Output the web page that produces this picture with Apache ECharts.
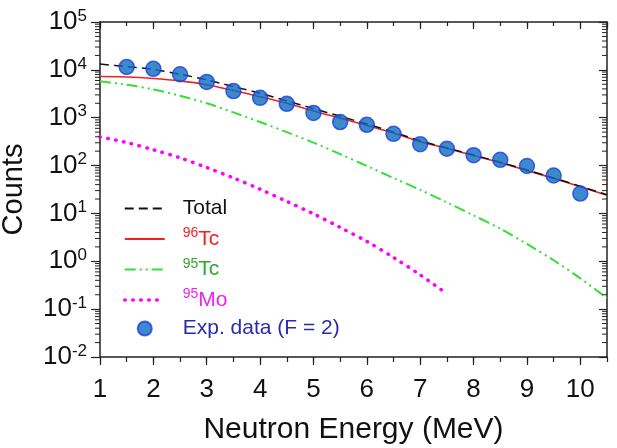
<!DOCTYPE html>
<html>
<head>
<meta charset="utf-8">
<script src="https://cdn.jsdelivr.net/npm/echarts@6/dist/echarts.min.js"></script>
<style>
html,body{margin:0;padding:0;background:#fff;}
#chart{width:617px;height:448px;}
</style>
</head>
<body>
<div id="chart"></div>
<script>
// ---- data ----
const curveEnergy = [1, 1.5, 2, 2.5, 3, 3.5, 4, 4.5, 5, 5.5, 6, 6.5, 7, 7.5, 8, 8.5, 9, 9.5, 10, 10.5];
const totalCounts = [13200, 11700, 10200, 8100, 6200, 4470, 3240, 2240, 1550, 1070, 740, 500, 330, 234, 166, 117, 81, 55, 37, 24.5];
const tc96Counts  = [7240, 7080, 6610, 5890, 4900, 3720, 2750, 2000, 1380, 980, 690, 480, 316, 229, 162, 115, 79, 54, 36, 24];
const tc95Counts  = [5750, 4900, 3890, 2880, 2000, 1290, 813, 500, 302, 174, 98, 55, 31, 17, 9.1, 4.8, 2.3, 1.05, 0.44, 0.17];
const mo95Energy  = [1, 1.5, 2, 2.5, 3, 3.5, 4, 4.5, 5, 5.5, 6, 6.5, 7, 7.5];
const mo95Counts  = [398, 302, 214, 145, 91, 55, 32, 17.8, 9.8, 5.1, 2.6, 1.2, 0.52, 0.21];
const expEnergy   = [1.5, 2, 2.5, 3, 3.5, 4, 4.5, 5, 5.5, 6, 6.5, 7, 7.5, 8, 8.5, 9, 9.5, 10];
const expCounts   = [11500, 10500, 8100, 5600, 3600, 2600, 1950, 1260, 810, 710, 460, 280, 225, 165, 132, 98, 62, 26];
const seriesNames = ['Total', '96Tc', '95Tc', '95Mo', 'Exp. data (F = 2)'];
const xTitle = 'Neutron Energy (MeV)';
const yTitle = 'Counts';

// log minor tick values (2..9 × 10^e)
const minorTickValues = [];
for (let e = -2; e <= 4; e++) for (let m = 2; m <= 9; m++) minorTickValues.push(m * Math.pow(10, e));

const zip = (xs, ys) => xs.map((x, i) => [x, ys[i]]);
const AX = '#222';
const legendFmt = {
  'Total': '{m|Total}',
  '96Tc': '{s|96}{m|Tc}',
  '95Tc': '{s|95}{m|Tc}',
  '95Mo': '{s|95}{m|Mo}',
  'Exp. data (F = 2)': '{m|Exp. data (F = 2)}'
};

const chart = echarts.init(document.getElementById('chart'), null, {renderer: 'canvas'});
const baseX = {type: 'value', min: 1, max: 10.5, splitLine: {show: false}};
const hideDot = {opacity: 0};
const option = {
  animation: false,
  backgroundColor: '#fff',
  grid: {left: 100, right: 10, top: 22, bottom: 91, containLabel: false, outerBoundsMode: 'none'},
  xAxis: [
    Object.assign({}, baseX, {
      position: 'bottom', interval: 1,
      axisLine: {onZero: false, lineStyle: {color: AX, width: 1.5}},
      axisTick: {length: 8, lineStyle: {color: AX, width: 1.2}},
      axisLabel: {fontSize: 26, color: '#111', margin: 20, showMaxLabel: false, fontFamily: 'Liberation Sans'},
      name: xTitle, nameLocation: 'middle', nameGap: 58,
      nameTextStyle: {fontSize: 30, color: '#111', fontFamily: 'Liberation Sans'}
    }),
    Object.assign({}, baseX, {
      position: 'top', interval: 1,
      axisLine: {onZero: false, lineStyle: {color: AX, width: 1.5}},
      axisTick: {inside: true, length: 7, lineStyle: {color: AX, width: 1.2}},
      axisLabel: {show: false}
    }),
    Object.assign({}, baseX, {
      position: 'bottom', interval: 0.5,
      axisLine: {show: false, onZero: false},
      axisTick: {length: 5, lineStyle: {color: AX, width: 1.2}},
      axisLabel: {show: false}
    }),
    Object.assign({}, baseX, {
      position: 'top', interval: 0.5,
      axisLine: {show: false, onZero: false},
      axisTick: {inside: true, length: 4, lineStyle: {color: AX, width: 1.2}},
      axisLabel: {show: false}
    })
  ],
  yAxis: [
    {
      type: 'log', logBase: 10, min: 0.01, max: 100000, splitNumber: 7, position: 'left',
      splitLine: {show: false},
      axisLine: {show: true, onZero: false, lineStyle: {color: AX, width: 1.5}},
      axisTick: {length: 9, lineStyle: {color: AX, width: 1.2}},
      axisLabel: {
        margin: 13, color: '#111', fontFamily: 'Liberation Sans',
        formatter: v => '{m|10}{s|' + Math.round(Math.log10(v)) + '}',
        rich: {
          m: {fontSize: 26, lineHeight: 29, color: '#111', fontFamily: 'Liberation Sans'},
          s: {fontSize: 17, lineHeight: 17, verticalAlign: 'top', color: '#111', fontFamily: 'Liberation Sans'}
        }
      },
      name: yTitle, nameLocation: 'middle', nameGap: 72,
      nameTextStyle: {fontSize: 29, color: '#111', fontFamily: 'Liberation Sans'}
    },
    {
      type: 'log', logBase: 10, min: 0.01, max: 100000, splitNumber: 7, position: 'right',
      splitLine: {show: false},
      axisLine: {show: true, onZero: false, lineStyle: {color: AX, width: 1.5}},
      axisTick: {inside: true, length: 8, lineStyle: {color: AX, width: 1.2}},
      axisLabel: {show: false}
    }
  ],
  legend: {
    orient: 'vertical', left: 123, top: 198, padding: 0,
    itemWidth: 40, itemHeight: 14, itemGap: 7.5,
    selectedMode: false,
    formatter: n => legendFmt[n],
    textStyle: {
      fontSize: 21, padding: [0, 0, 0, 13], fontFamily: 'Liberation Sans',
      rich: {
        m: {fontSize: 21, lineHeight: 25, fontFamily: 'Liberation Sans'},
        s: {fontSize: 14, lineHeight: 14, verticalAlign: 'top', fontFamily: 'Liberation Sans'}
      }
    },
    data: [
      {name: seriesNames[0], itemStyle: hideDot, textStyle: {color: '#111'}},
      {name: seriesNames[1], itemStyle: hideDot, textStyle: {color: '#ee2222'}},
      {name: seriesNames[2], itemStyle: hideDot, textStyle: {color: '#2aaa2a'}},
      {name: seriesNames[3], itemStyle: hideDot, lineStyle: {width: 3.5}, textStyle: {color: '#ee22ee'}},
      {name: seriesNames[4], textStyle: {color: '#2a2ab0'}}
    ]
  },
  series: [
    {
      name: seriesNames[1], type: 'line', data: zip(curveEnergy, tc96Counts),
      smooth: 0.3, symbol: 'none', z: 3,
      lineStyle: {color: '#ee2222', width: 1.6}, itemStyle: {color: '#ee2222'}
    },
    {
      name: seriesNames[2], type: 'line', data: zip(curveEnergy, tc95Counts),
      smooth: 0.3, symbol: 'none', z: 3,
      lineStyle: {color: '#33e033', width: 2, type: [11, 4, 2, 4, 2, 4]}, itemStyle: {color: '#33e033'}
    },
    {
      name: seriesNames[3], type: 'line', data: zip(mo95Energy, mo95Counts),
      smooth: 0.3, symbol: 'none', z: 3,
      lineStyle: {color: '#ff00ff', width: 3.5, type: [0.5, 7.5], cap: 'round'}, itemStyle: {color: '#ff00ff'}
    },
    {
      name: seriesNames[0], type: 'line', data: zip(curveEnergy, totalCounts),
      smooth: 0.3, symbol: 'none', z: 4,
      lineStyle: {color: '#111', width: 1.5, type: [9, 5]}, itemStyle: {color: '#111'}
    },
    {
      name: seriesNames[4], type: 'scatter', data: zip(expEnergy, expCounts),
      symbol: 'circle', symbolSize: 15, z: 6,
      itemStyle: {color: '#0b6cc2', borderColor: '#1f3fe0', borderWidth: 1.5}
    },
    {
      name: 'minorTicks', type: 'custom', silent: true, clip: false, z: 7,
      xAxisIndex: 0, yAxisIndex: 0,
      data: minorTickValues.map(v => [1, v]),
      renderItem: (params, api) => {
        const v = api.value(1);
        const pl = api.coord([1, v]);
        const pr = api.coord([10.5, v]);
        const st = {stroke: AX, lineWidth: 1};
        return {type: 'group', children: [
          {type: 'line', shape: {x1: pl[0] - 5, y1: pl[1], x2: pl[0], y2: pl[1]}, style: st},
          {type: 'line', shape: {x1: pr[0] - 5, y1: pr[1], x2: pr[0], y2: pr[1]}, style: st}
        ]};
      }
    }
  ]
};
chart.setOption(option);
</script>
</body>
</html>
